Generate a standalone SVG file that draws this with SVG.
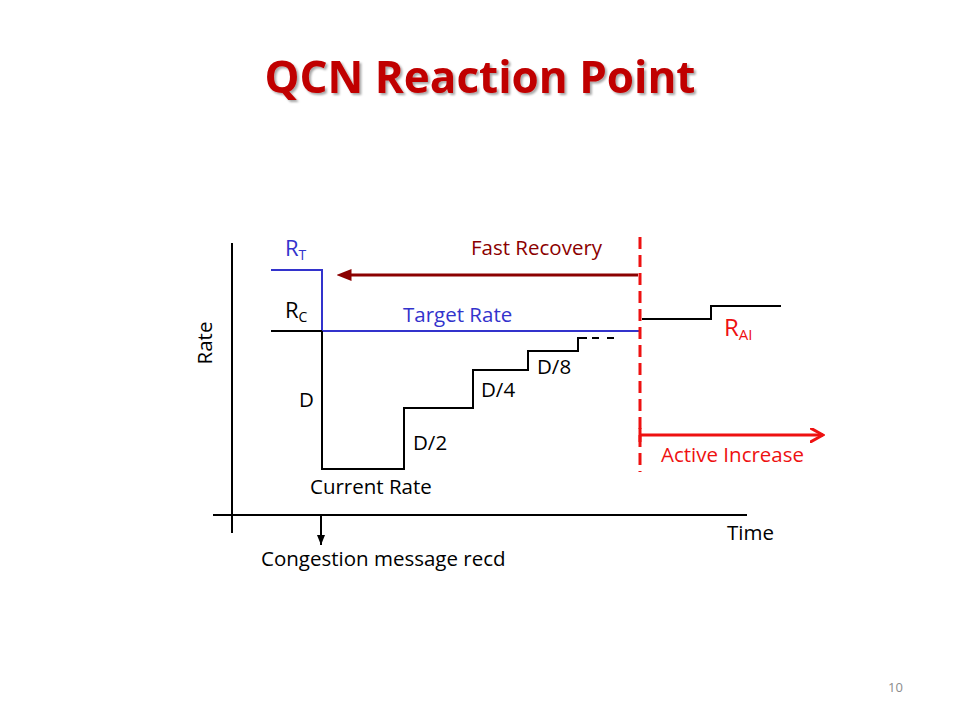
<svg xmlns="http://www.w3.org/2000/svg" width="960" height="720" viewBox="0 0 960 720">
<defs>
<style>
text{font-family:"Open Sans","Liberation Sans",sans-serif;font-size:20.5px}
.blk{fill:#000}
.blue{fill:#3333CC}
.dred{fill:#8B0000}
.red{fill:#EE1111}
.ln{fill:none;stroke:#000;stroke-width:2}
.bl{fill:none;stroke:#3333CC;stroke-width:2}
</style>
<marker id="ah-dred" viewBox="0 0 10 10" refX="1" refY="5" markerWidth="5" markerHeight="5" orient="auto-start-reverse" markerUnits="strokeWidth">
<path d="M0,1 L10,5 L0,9 z" fill="#8B0000"/>
</marker>
<marker id="ah-red" viewBox="0 0 10 10" refX="9" refY="5" markerWidth="5" markerHeight="5" orient="auto" markerUnits="strokeWidth">
<path d="M0,0 L9,5 L0,10" fill="none" stroke="#EE1111" stroke-width="2"/>
</marker>
<marker id="ah-blk" viewBox="0 0 10 10" refX="10" refY="5" markerWidth="5" markerHeight="5" orient="auto" markerUnits="strokeWidth">
<path d="M0,1 L10,5 L0,9 z" fill="#000"/>
</marker>
<filter id="sh" x="-5%" y="-20%" width="110%" height="140%">
<feDropShadow dx="2" dy="2" stdDeviation="1.2" flood-color="#000" flood-opacity="0.35"/>
</filter>
</defs>
<rect width="960" height="720" fill="#fff"/>
<text id="title" x="480" y="93" text-anchor="middle" style="font-size:44px;font-weight:bold;fill:#C00000" filter="url(#sh)">QCN Reaction Point</text>

<g id="connectors">
<path id="y-axis" class="ln" d="M232,243 V533"/>
<path id="x-axis" class="ln" d="M213,515 H747"/>
<path id="rt-line" class="bl" d="M271,270 H322 V331"/>
<path id="target-line" class="bl" d="M322,331 H640"/>
<path id="rc-line" class="ln" d="M271,331 H322"/>
<path id="current-rate" class="ln" d="M322,331 V469 H404 V408 H473 V370 H528 V351 H578 V338 H587"/>
<path id="dash-cont" class="ln" d="M592,338 H599 M607,338 H614"/>
<path id="divider" fill="none" stroke="#EE1111" stroke-width="3" stroke-dasharray="12,6" d="M640,237 V472"/>
<path id="fast-recovery" fill="none" stroke="#8B0000" stroke-width="3" marker-end="url(#ah-dred)" d="M638,275 H350"/>
<path id="rai-line" class="ln" d="M642,319 H711 V306 H781"/>
<path id="active-increase" fill="none" stroke="#EE1111" stroke-width="3" marker-end="url(#ah-red)" d="M640,435 H823"/>
<path id="ai-tick" fill="none" stroke="#EE1111" stroke-width="3" d="M640,428 V442"/>
<path id="congestion" class="ln" marker-end="url(#ah-blk)" d="M321,515 V545"/>
</g>

<g id="rt-label"><text class="blue" x="285" y="256" style="font-size:22px">R<tspan dy="4" style="font-size:14px">T</tspan></text></g>
<g id="fast-recovery-label"><text class="dred" x="471" y="255">Fast Recovery</text></g>
<g id="rc-label"><text class="blk" x="285" y="318" style="font-size:22px">R<tspan dy="4" style="font-size:14px">C</tspan></text></g>
<g id="target-rate-label"><text class="blue" x="403" y="322">Target Rate</text></g>
<g id="rai-label"><text class="red" x="724" y="336" style="font-size:24px">R<tspan dy="4" style="font-size:15px">AI</tspan></text></g>
<g id="d8-label"><text class="blk" x="537" y="374">D/8</text></g>
<g id="d4-label"><text class="blk" x="481" y="397">D/4</text></g>
<g id="d-label"><text class="blk" x="299" y="407">D</text></g>
<g id="d2-label"><text class="blk" x="413" y="450">D/2</text></g>
<g id="current-rate-label"><text class="blk" x="310" y="494">Current Rate</text></g>
<g id="active-increase-label"><text class="red" x="661" y="462">Active Increase</text></g>
<g id="time-label"><text class="blk" x="727" y="540">Time</text></g>
<g id="congestion-label"><text class="blk" x="261" y="566">Congestion message recd</text></g>
<g id="rate-label"><text class="blk" transform="translate(212,343) rotate(-90)" text-anchor="middle">Rate</text></g>
<text id="page-num" x="888" y="692" style="font-size:13px;fill:#8C8C8C">10</text>
</svg>
